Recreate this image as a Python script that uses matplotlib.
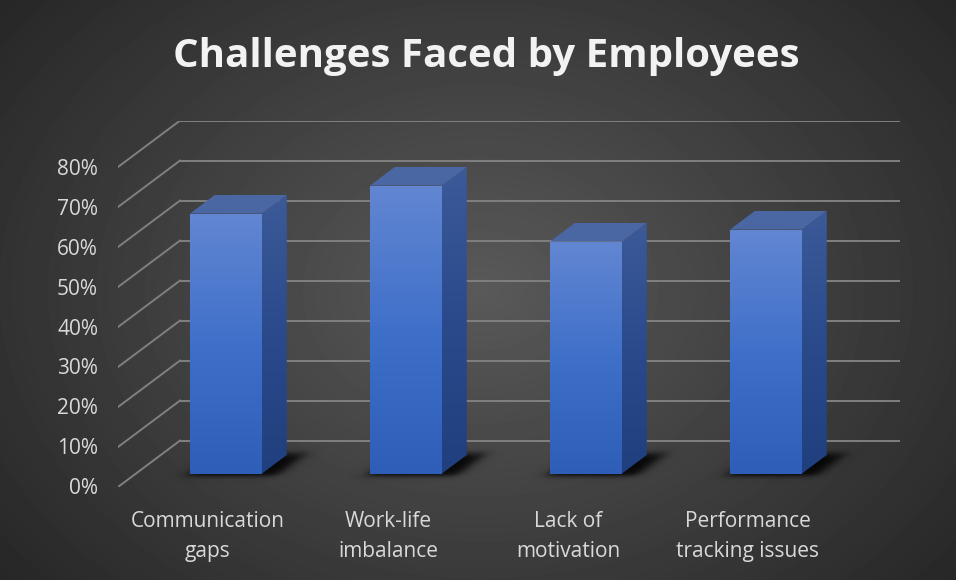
import numpy as np
import matplotlib
matplotlib.use('Agg')
import matplotlib.pyplot as plt
from matplotlib.patches import Polygon
from matplotlib.colors import LinearSegmentedColormap
from matplotlib.transforms import offset_copy

categories = ['Communication\ngaps', 'Work-life\nimbalance', 'Lack of\nmotivation', 'Performance\ntracking issues']
values = [65, 72, 58, 61]
ticks = [0, 10, 20, 30, 40, 50, 60, 70, 80]
title = 'Challenges Faced by Employees'

W, H = 956, 580
fig = plt.figure(figsize=(W / 100, H / 100), dpi=100)

# dark radial background
bg = fig.add_axes([0, 0, 1, 1])
yy, xx = np.mgrid[0:H, 0:W]
r = np.sqrt(((xx - 480) / 560) ** 2 + ((yy - 290) / 420) ** 2)
shade = np.clip(0.35 - 0.18 * r, 0.13, 0.4)
bg.imshow(shade, cmap='gray', vmin=0, vmax=1, aspect='auto', extent=[0, W, H, 0])
bg.set_axis_off()

# oblique "3D" frame: depth shifts x by DX categories and y by DY percent
DX = 62 / 180
DY = 11.6
ymax = ticks[-1]
ax = fig.add_axes([118 / W, (H - 487) / H, (4 + DX) * 180 / W, (ymax + DY) * 4 / H])
ax.set_axis_off()

grid_col = '#808080'
for t in ticks:
    ax.plot([-0.5, -0.5 + DX], [t, t + DY], color=grid_col, lw=1.4, zorder=1)
    ax.plot([-0.5 + DX, len(values) - 0.5 + DX], [t + DY, t + DY], color=grid_col, lw=1.4, zorder=1)

lab_tr = offset_copy(ax.transData, fig=fig, x=-20, y=-2, units='dots')
for t in ticks:
    ax.text(-0.5, t, f'{t}%', transform=lab_tr, ha='right', va='center',
            fontsize=15, color='#d9d9d9', family='Open Sans')

cat_tr = offset_copy(ax.transData, fig=fig, x=0, y=-24, units='dots')
for i, c in enumerate(categories):
    ax.text(i, 0, c, transform=cat_tr, ha='center', va='top', fontsize=15,
            color='#d9d9d9', family='Open Sans', linespacing=1.55)

front_cm = LinearSegmentedColormap.from_list('front', ['#2e5eb8', '#3f70c9', '#6286d2'])
side_cm = LinearSegmentedColormap.from_list('side', ['#1f3f7e', '#2a4a8c', '#3c5a98'])
top_col = '#4a67a3'

d0, d1 = 0.29, 0.69
hw = 0.2
ox, oy = (d1 - d0) * DX, (d1 - d0) * DY
grad = np.linspace(0, 1, 256).reshape(-1, 1)

for i, v in enumerate(values):
    x0 = i - hw + d0 * DX
    x1 = i + hw + d0 * DX
    y0 = d0 * DY
    y1 = v + d0 * DY

    # soft shadow on the floor
    sx = np.linspace(x0 - 0.2, x1 + ox + 0.25, 140)
    sy = np.linspace(y0 - 5, y0 + oy + 5, 70)
    gx, gy = np.meshgrid(sx, sy)
    dv = gy / DY
    du = gx - dv * DX - i - 0.04
    su = 0.5 * (np.tanh((du + hw + 0.04) / 0.045) - np.tanh((du - hw - 0.06) / 0.045))
    sv = 0.5 * (np.tanh((dv - d0 + 0.06) / 0.06) - np.tanh((dv - d1 - 0.02) / 0.08))
    rgba = np.zeros(gx.shape + (4,))
    rgba[..., 3] = 0.9 * su * sv
    ax.imshow(rgba, extent=[sx[0], sx[-1], sy[0], sy[-1]], origin='lower',
              aspect='auto', zorder=2, interpolation='bilinear')

    # front face
    ax.imshow(grad, cmap=front_cm, extent=[x0, x1, y0, y1], origin='lower',
              aspect='auto', zorder=4)

    # side face
    side = Polygon([(x1, y0), (x1 + ox, y0 + oy), (x1 + ox, y1 + oy), (x1, y1)],
                   closed=True, facecolor='none', edgecolor='none', transform=ax.transData)
    ax.add_patch(side)
    im = ax.imshow(grad, cmap=side_cm, extent=[x1, x1 + ox, y0, y1 + oy], origin='lower',
                   aspect='auto', zorder=3)
    im.set_clip_path(side)

    # top face
    ax.add_patch(Polygon([(x0, y1), (x1, y1), (x1 + ox, y1 + oy), (x0 + ox, y1 + oy)],
                         closed=True, facecolor=top_col, edgecolor='none', zorder=4))

ax.set_xlim(-0.5, len(values) - 0.5 + DX)
ax.set_ylim(0, ymax + DY)

fig.text(486 / W, 1 - 56 / H, title, ha='center', va='center', fontsize=29,
         fontweight='bold', color='#f2f2f2', family='Open Sans')

fig.savefig('out.png', dpi=100)
